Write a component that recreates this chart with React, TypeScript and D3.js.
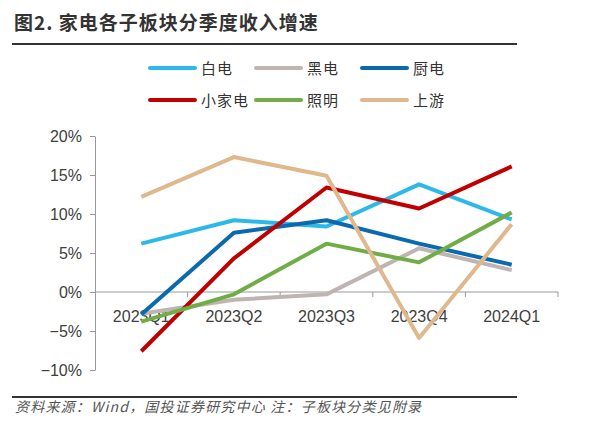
import React, { useEffect, useRef } from "react";
import * as d3 from "d3";

const quarters = ["2023Q1", "2023Q2", "2023Q3", "2023Q4", "2024Q1"];
const yTicks = [-10, -5, 0, 5, 10, 15, 20];

const seriesNames = ["白电", "黑电", "厨电", "小家电", "照明", "上游"];
const seriesColors = ["#2DB8EA", "#BEB5B2", "#0B69AE", "#C00000", "#70AD47", "#DFB88E"];

const baiDian = [6.2, 9.2, 8.4, 13.8, 9.3];
const heiDian = [-2.8, -1.0, -0.3, 5.6, 2.8];
const chuDian = [-2.9, 7.6, 9.2, 6.2, 3.5];
const xiaoJiaDian = [-7.6, 4.3, 13.4, 10.7, 16.1];
const zhaoMing = [-3.8, -0.3, 6.2, 3.8, 10.2];
const shangYou = [12.2, 17.3, 14.9, -5.9, 8.7];

const seriesValues = [baiDian, heiDian, chuDian, xiaoJiaDian, zhaoMing, shangYou];

const cjk = '"Noto Sans CJK SC", "Noto Sans", sans-serif';
const latin = '"Liberation Sans", Arial, sans-serif';

const App: React.FC = () => {
  const svgRef = useRef<SVGSVGElement | null>(null);

  useEffect(() => {
    if (!svgRef.current) return;
    const svg = d3.select(svgRef.current);
    svg.selectAll("*").remove();

    // title + rules
    svg
      .append("text")
      .attr("x", 14)
      .attr("y", 30)
      .attr("font-family", cjk)
      .attr("font-weight", "bold")
      .attr("font-size", 19)
      .attr("letter-spacing", 1)
      .attr("fill", "#333")
      .text("图2. 家电各子板块分季度收入增速");

    svg.append("line").attr("x1", 12).attr("x2", 517).attr("y1", 44).attr("y2", 44)
      .attr("stroke", "#333").attr("stroke-width", 2);
    svg.append("line").attr("x1", 12).attr("x2", 517).attr("y1", 397).attr("y2", 397)
      .attr("stroke", "#333").attr("stroke-width", 2);

    svg
      .append("text")
      .attr("x", 15)
      .attr("y", 412)
      .attr("font-family", cjk)
      .attr("font-style", "italic")
      .attr("font-size", 14)
      .attr("letter-spacing", 1.2)
      .attr("fill", "#555")
      .text("资料来源：Wind，国投证券研究中心 注：子板块分类见附录");

    // legend
    const legend = svg.append("g");
    seriesNames.forEach((name, i) => {
      const col = i % 3;
      const row = Math.floor(i / 3);
      const lx = 150 + col * 106;
      const ly = 68 + row * 32;
      legend.append("line")
        .attr("x1", lx).attr("x2", lx + 45).attr("y1", ly).attr("y2", ly)
        .attr("stroke", seriesColors[i]).attr("stroke-width", 4).attr("stroke-linecap", "round");
      legend.append("text")
        .attr("x", lx + 51).attr("y", ly + 5.5)
        .attr("font-family", cjk).attr("font-size", 15).attr("fill", "#333")
        .attr("letter-spacing", 1)
        .text(name);
    });

    // plot
    const left = 95;
    const right = 558;
    const y = d3.scaleLinear().domain([-10, 20]).range([370, 136]);
    const x = d3.scaleBand().domain(quarters).range([left, right]);
    const cx = (q: string) => (x(q) || 0) + x.bandwidth() / 2;

    const yAxis = svg.append("g").attr("transform", `translate(${left},0)`)
      .call(d3.axisLeft(y).tickValues(yTicks).tickSize(5).tickSizeOuter(0)
        .tickFormat((d) => (Number(d) < 0 ? "\u2212" : "") + Math.abs(Number(d)) + "%"));
    yAxis.select(".domain").attr("stroke", "#999");
    yAxis.selectAll(".tick line").attr("stroke", "#999");
    yAxis.selectAll(".tick text").attr("font-family", latin).attr("font-size", 16)
      .attr("fill", "#404040").attr("x", -13);

    const xAxis = svg.append("g").attr("transform", `translate(0,${y(0)})`);
    xAxis.append("line").attr("x1", left).attr("x2", right).attr("y1", 0).attr("y2", 0)
      .attr("stroke", "#999");
    const bounds = quarters.map((q) => x(q) || 0).concat([right]);
    bounds.slice(1).forEach((b) => {
      xAxis.append("line").attr("x1", b).attr("x2", b).attr("y1", 0).attr("y2", 5)
        .attr("stroke", "#999");
    });

    const line = d3.line<number>()
      .x((_, i) => cx(quarters[i]))
      .y((d) => y(d));

    // x labels sit under the lines in the original
    quarters.forEach((q) => {
      xAxis.append("text")
        .attr("x", cx(q)).attr("y", 30)
        .attr("text-anchor", "middle")
        .attr("font-family", latin).attr("font-size", 16).attr("fill", "#404040")
        .text(q);
    });

    seriesValues.forEach((vals, i) => {
      svg.append("path")
        .datum(vals)
        .attr("fill", "none")
        .attr("stroke", seriesColors[i])
        .attr("stroke-width", 4)
        .attr("stroke-linejoin", "round")
        .attr("d", line);
    });
  }, []);

  return (
    <svg
      ref={svgRef}
      width={601}
      height={436}
      style={{ position: "absolute", left: 0, top: 0, background: "#fff" }}
    ></svg>
  );
};

export default App;
